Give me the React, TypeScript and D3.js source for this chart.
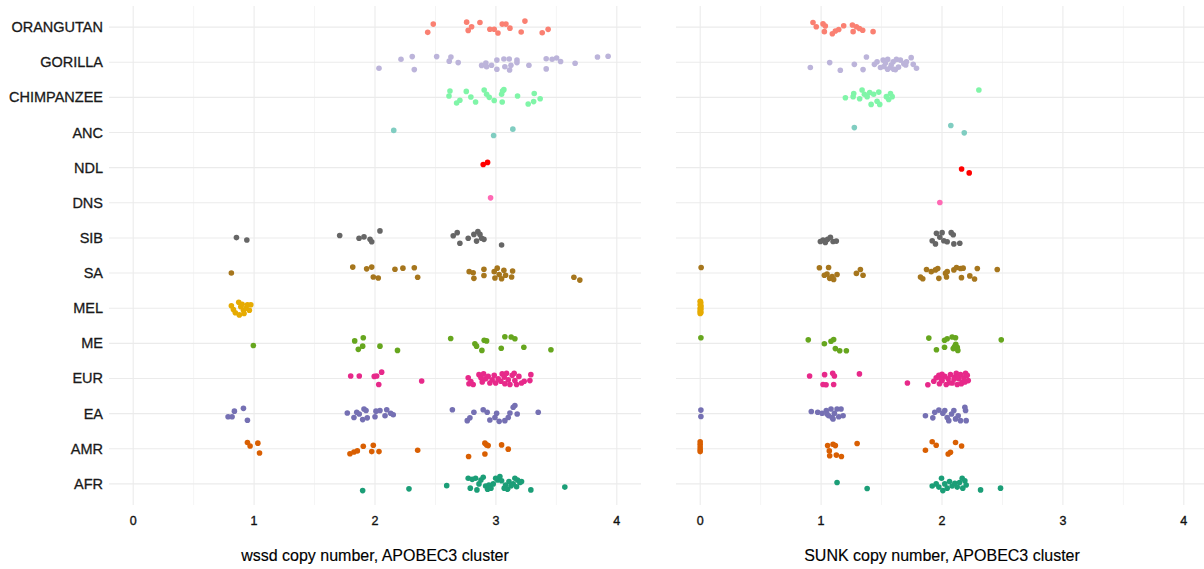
import React from "react";
import * as d3 from "d3";

// Categories (top to bottom)
const categories = ["ORANGUTAN","GORILLA","CHIMPANZEE","ANC","NDL","DNS","SIB","SA","MEL","ME","EUR","EA","AMR","AFR"];
const colors = ["#FA8072","#BCB4DA","#80F5A8","#80CDC1","#FF0000","#FF69B4","#666666","#A6761D","#E6AB02","#66A61E","#E7298A","#7570B3","#D95F02","#1B9E77"];
const xTicks = [0, 1, 2, 3, 4];
const xMinor = [0.5, 1.5, 2.5, 3.5];
const panelTitles = ["wssd copy number, APOBEC3 cluster", "SUNK copy number, APOBEC3 cluster"];

// [copy number, vertical jitter in rows]
const wssdORANGUTAN: [number, number][] = [[2.436,0.15],[2.482,-0.085],[2.758,-0.14],[2.771,0.094],[2.799,-0.01],[2.868,-0.13],[2.95,0.06],[2.986,0.06],[3.017,0.17],[3.052,-0.085],[3.083,-0.085],[3.116,0.03],[3.209,0.14],[3.24,-0.17],[3.383,0.16],[3.432,0.065]];
const wssdGORILLA: [number, number][] = [[2.033,0.17],[2.215,-0.085],[2.308,-0.16],[2.325,0.21],[2.51,-0.16],[2.614,-0.03],[2.628,-0.15],[2.688,0.01],[2.882,0.09],[2.917,0.02],[2.923,0.13],[2.964,0.085],[3.008,-0.06],[3.008,0.2],[3.066,-0.09],[3.074,0.13],[3.11,-0.09],[3.113,0.22],[3.124,0.085],[3.174,-0.06],[3.174,0.01],[3.273,0.085],[3.416,-0.1],[3.416,0.19],[3.465,-0.085],[3.502,-0.12],[3.535,-0.02],[3.655,0.03],[3.84,-0.15],[3.928,-0.17]];
const wssdCHIMPANZEE: [number, number][] = [[2.612,-0.04],[2.62,-0.18],[2.675,0.16],[2.702,0.08],[2.755,-0.17],[2.793,-0.01],[2.832,0.13],[2.903,-0.21],[2.923,-0.09],[2.945,0],[2.986,0.09],[3.047,-0.09],[3.055,-0.18],[3.066,-0.22],[3.052,0.13],[3.179,-0.04],[3.267,0.19],[3.312,0.12],[3.317,-0.11],[3.366,0.04]];
const wssdANC: [number, number][] = [[2.155,-0.06],[2.981,0.085],[3.14,-0.095]];
const wssdNDL: [number, number][] = [[2.895,-0.09],[2.931,-0.15]];
const wssdDNS: [number, number][] = [[2.956,-0.14]];
const wssdSIB: [number, number][] = [[0.854,-0.01],[0.94,0.06],[1.708,-0.07],[1.868,0.01],[1.909,-0.03],[1.959,0.04],[1.973,0.11],[2.041,-0.2],[2.647,-0.06],[2.68,-0.15],[2.702,0.15],[2.771,0.01],[2.818,-0.1],[2.84,0.09],[2.851,-0.18],[2.868,-0.1],[2.882,0.01],[2.901,0.04],[3.047,0.2]];
const wssdSA: [number, number][] = [[0.812,0],[1.816,-0.17],[1.931,-0.12],[1.973,-0.17],[1.986,0.11],[2.027,0.14],[2.165,-0.11],[2.231,-0.14],[2.325,-0.15],[2.353,0.12],[2.779,-0.04],[2.812,-0.01],[2.818,0.15],[2.901,-0.11],[2.901,0.07],[2.986,-0.04],[2.992,0.14],[3.011,-0.14],[3.027,0.04],[3.047,0.16],[3.066,-0.08],[3.08,0.06],[3.13,0.11],[3.138,-0.06],[3.645,0.12],[3.694,0.2]];
const wssdMEL: [number, number][] = [[0.812,-0.07],[0.829,0.04],[0.845,0.13],[0.873,-0.17],[0.878,0.19],[0.89,-0.04],[0.901,-0.11],[0.912,0.06],[0.917,0.15],[0.934,0],[0.945,-0.1],[0.973,-0.1],[0.961,0.06]];
const wssdME: [number, number][] = [[0.994,0.06],[1.832,-0.07],[1.862,0.17],[1.898,0.08],[1.903,-0.16],[2.041,0.08],[2.186,0.2],[2.626,-0.14],[2.826,0.01],[2.84,0.08],[2.884,0.2],[2.903,-0.09],[2.923,-0.07],[3.044,0.14],[3.074,-0.19],[3.126,-0.18],[3.157,-0.13],[3.231,0.11],[3.455,0.18]];
const wssdEUR: [number, number][] = [[1.799,-0.07],[1.87,-0.07],[1.994,-0.06],[2.014,-0.07],[2.055,-0.18],[2.031,0.17],[2.386,0.07],[2.771,-0.02],[2.777,0.15],[2.793,0.09],[2.812,0.17],[2.86,-0.11],[2.876,-0.02],[2.887,0.1],[2.898,-0.13],[2.915,0.01],[2.936,-0.06],[2.95,0.13],[2.969,0.04],[2.986,-0.09],[2.998,0.13],[3.019,0.01],[3.041,0.08],[3.052,-0.13],[3.069,-0.04],[3.074,0.15],[3.088,-0.15],[3.102,0.04],[3.116,0.17],[3.135,-0.09],[3.151,-0.15],[3.157,0.06],[3.171,0.17],[3.19,-0.06],[3.212,0.13],[3.234,0.08],[3.289,-0.11],[3.281,0.06]];
const wssdEA: [number, number][] = [[0.785,0.09],[0.818,0.09],[0.837,-0.07],[0.912,-0.15],[0.945,0.19],[1.771,-0.02],[1.826,0.11],[1.849,-0.04],[1.87,0.01],[1.898,0.17],[1.909,-0.13],[1.926,-0.09],[1.936,0.12],[2,0.09],[2.008,-0.07],[2.041,-0.09],[2.083,0.06],[2.097,-0.11],[2.13,-0.01],[2.151,0.03],[2.64,-0.11],[2.763,0.2],[2.785,0.12],[2.818,-0.04],[2.895,-0.11],[2.928,-0.04],[2.95,0.18],[2.992,0.11],[3.006,-0.01],[3.027,0.22],[3.074,0.2],[3.102,0.11],[3.116,-0.02],[3.143,-0.18],[3.157,-0.23],[3.176,0.01],[3.35,-0.04]];
const wssdAMR: [number, number][] = [[0.945,-0.18],[0.967,-0.08],[1.031,-0.16],[1.045,0.12],[1.793,0.14],[1.826,0.09],[1.854,0.06],[1.903,-0.07],[1.973,0.08],[1.986,-0.1],[2.033,0.08],[2.353,0.04],[2.774,0.22],[2.909,-0.16],[2.923,-0.11],[2.936,-0.09],[2.909,0.15],[3.047,-0.11],[3.102,0.01]];
const wssdAFR: [number, number][] = [[1.898,0.19],[2.281,0.14],[2.593,0.05],[2.771,-0.16],[2.788,0.12],[2.804,-0.13],[2.832,-0.16],[2.843,0.17],[2.86,0],[2.876,-0.11],[2.895,-0.19],[2.915,0.06],[2.931,0.15],[2.942,0.03],[2.959,0.12],[2.978,0],[2.998,-0.16],[3.014,-0.11],[3.033,-0.21],[3.047,-0.09],[3.069,0.12],[3.08,0.03],[3.097,0.15],[3.108,-0.07],[3.124,0.06],[3.143,0],[3.157,-0.16],[3.171,0.08],[3.179,-0.11],[3.198,-0.04],[3.212,-0.07],[3.289,0.17],[3.57,0.09]];

const sunkORANGUTAN: [number, number][] = [[0.933,-0.13],[0.96,-0.01],[1.016,-0.09],[1.027,0.13],[1.035,-0.03],[1.093,0.19],[1.118,0.11],[1.146,0.07],[1.187,-0.04],[1.259,-0.06],[1.265,0.13],[1.292,-0.01],[1.317,0.04],[1.344,0.09],[1.43,0.13]];
const sunkGORILLA: [number, number][] = [[0.911,0.15],[1.071,0.01],[1.159,0.23],[1.275,0.06],[1.347,0.21],[1.375,-0.15],[1.441,0.06],[1.463,-0.01],[1.491,0.15],[1.513,-0.06],[1.532,0.02],[1.551,-0.08],[1.574,0.15],[1.596,-0.01],[1.615,0.21],[1.623,-0.08],[1.656,-0.06],[1.684,0.04],[1.706,-0.01],[1.745,-0.13],[1.762,0.06],[1.789,0.17],[1.52,0.12],[1.58,0.08],[1.64,0.14],[1.7,0.08],[1.55,0.2],[1.6,0.2]];
const sunkCHIMPANZEE: [number, number][] = [[1.201,0.01],[1.265,-0.02],[1.27,-0.11],[1.319,0.04],[1.339,-0.21],[1.358,-0.09],[1.381,-0.02],[1.402,-0.14],[1.414,0.2],[1.435,-0.09],[1.463,0.11],[1.477,-0.15],[1.485,0.2],[1.54,-0.02],[1.559,0.06],[1.574,-0.11],[1.588,-0.02],[2.305,-0.21]];
const sunkANC: [number, number][] = [[1.275,-0.14],[2.073,-0.2],[2.184,0.01]];
const sunkNDL: [number, number][] = [[2.162,0.04],[2.225,0.15]];
const sunkDNS: [number, number][] = [[1.982,-0.01]];
const sunkSIB: [number, number][] = [[0.994,0.1],[1.016,0.06],[1.035,0.13],[1.054,0.04],[1.077,-0.02],[1.099,0.1],[1.126,0.09],[1.919,0.08],[1.946,0.17],[1.954,-0.13],[1.982,-0.02],[2.001,-0.15],[2.015,0.08],[2.043,0.11],[2.076,-0.15],[2.093,-0.09],[2.098,0.17],[2.147,0.15]];
const sunkSA: [number, number][] = [[0.008,-0.16],[0.986,-0.15],[1.027,0.06],[1.049,0.03],[1.062,-0.16],[1.071,0.15],[1.091,0.1],[1.104,0.18],[1.132,0.04],[1.292,0.01],[1.325,-0.1],[1.347,0.06],[1.822,0.11],[1.841,0.16],[1.872,-0.1],[1.911,-0.04],[1.946,-0.09],[1.965,-0.13],[1.974,0.15],[2.029,0.01],[2.037,0.11],[2.043,-0.04],[2.098,-0.09],[2.12,-0.16],[2.153,-0.13],[2.175,-0.14],[2.161,0.13],[2.23,0.08],[2.269,0.17],[2.292,-0.13],[2.457,-0.1]];
const sunkMEL: [number, number][] = [[0,-0.2],[0.004,-0.15],[0,-0.1],[0.006,-0.05],[0,0],[0.004,0.04],[0,0.08],[0.006,0.12],[0,0.15],[0.003,-0.18],[0.005,0.02],[0.002,0.1],[0.004,-0.08]];
const sunkME: [number, number][] = [[0.006,-0.16],[0.894,-0.1],[1.027,0.01],[1.082,-0.06],[1.104,-0.11],[1.118,0.15],[1.154,0.21],[1.209,0.21],[1.891,-0.15],[1.954,0.18],[2.021,0.11],[2.021,-0.09],[2.043,-0.13],[2.084,-0.18],[2.093,0.15],[2.112,-0.16],[2.114,0.03],[2.126,0.11],[2.131,0.2],[2.104,0.09],[2.49,-0.1]];
const sunkEUR: [number, number][] = [[0.905,-0.07],[1.029,-0.11],[1.041,0.18],[1.096,-0.15],[1.11,-0.07],[1.104,0.17],[1.016,0.17],[1.317,-0.13],[1.714,0.13],[1.883,0.18],[1.932,0.08],[1.952,-0.02],[1.974,-0.09],[1.979,0.15],[2.001,0.06],[2.023,-0.06],[2.035,0.17],[2.051,0.01],[2.07,-0.11],[2.084,0.13],[2.106,-0.04],[2.118,-0.15],[2.126,0.17],[2.139,0.01],[2.153,-0.11],[2.167,0.11],[2.181,-0.02],[2.195,-0.15],[2.209,-0.09],[2.217,0.06],[1.99,0],[2.06,0.12],[2.12,-0.05],[2.16,0.15],[2.0,-0.12],[2.1,0.02],[2.19,0.1]];
const sunkEA: [number, number][] = [[0.006,-0.1],[0.006,0.08],[0.919,-0.06],[0.972,-0.04],[1.008,-0.01],[1.043,-0.09],[1.063,0.06],[1.082,-0.13],[1.099,0.15],[1.11,-0.01],[1.132,-0.13],[1.146,0.09],[1.165,-0.13],[1.182,0.06],[1.049,0.01],[1.091,0.11],[1.863,0.06],[1.924,0.12],[1.94,-0.04],[1.974,-0.1],[2.007,-0.01],[2.023,-0.09],[2.043,0.11],[2.056,0.2],[2.079,0.01],[2.098,-0.09],[2.112,0.15],[2.134,0.06],[2.153,0.2],[2.189,-0.18],[2.195,-0.09],[2.2,0.2]];
const sunkAMR: [number, number][] = [[0,-0.2],[0,-0.13],[0,-0.05],[0,0.02],[0,0.08],[1.054,-0.09],[1.068,0.06],[1.099,-0.13],[1.118,-0.09],[1.071,0.2],[1.126,0.18],[1.168,0.22],[1.298,-0.15],[1.863,0.04],[1.919,-0.2],[1.952,-0.1],[2.051,0.15],[2.07,0.1],[2.112,-0.18],[2.162,-0.08]];
const sunkAFR: [number, number][] = [[1.132,-0.04],[1.381,0.13],[1.919,0.06],[1.952,0],[1.974,0.09],[1.996,-0.16],[2.007,0.19],[2.023,0],[2.043,0.12],[2.062,-0.07],[2.084,0.06],[2.106,-0.02],[2.126,0.09],[2.145,-0.04],[2.167,-0.16],[2.172,0.12],[2.189,-0.09],[2.2,0.03],[2.319,0.17],[2.484,0.12]];

const wssdSeries = [wssdORANGUTAN, wssdGORILLA, wssdCHIMPANZEE, wssdANC, wssdNDL, wssdDNS, wssdSIB, wssdSA, wssdMEL, wssdME, wssdEUR, wssdEA, wssdAMR, wssdAFR];
const sunkSeries = [sunkORANGUTAN, sunkGORILLA, sunkCHIMPANZEE, sunkANC, sunkNDL, sunkDNS, sunkSIB, sunkSA, sunkMEL, sunkME, sunkEUR, sunkEA, sunkAMR, sunkAFR];

const W = 1204, H = 569;
const panelTop = 6, panelBottom = 505;
const panels = [{ x0: 109, x1: 641, data: wssdSeries }, { x0: 676, x1: 1208, data: sunkSeries }];
const FONT = "'Liberation Sans', Arial, Helvetica, sans-serif";

export default function App() {
  const y = d3.scalePoint<string>().domain(categories).range([panelTop, panelBottom]).padding(0.6);
  const step = y.step();
  return (
    <svg width={W} height={H} style={{ position: "absolute", left: 0, top: 0, background: "#fff" }} fontFamily={FONT}>
      {panels.map((p, pi) => {
        const x = d3.scaleLinear().domain([-0.2, 4.2]).range([p.x0, p.x1]);
        return (
          <g key={pi}>
            {xMinor.map(t => (
              <line key={"m" + t} x1={x(t)} x2={x(t)} y1={panelTop} y2={panelBottom} stroke="#ebebeb" strokeWidth={0.55} />
            ))}
            {xTicks.map(t => (
              <line key={"M" + t} x1={x(t)} x2={x(t)} y1={panelTop} y2={panelBottom} stroke="#ebebeb" strokeWidth={1.1} />
            ))}
            {categories.map(c => (
              <line key={c} x1={p.x0} x2={p.x1} y1={y(c)} y2={y(c)} stroke="#ebebeb" strokeWidth={1.1} />
            ))}
            {xTicks.map(t => (
              <text key={"t" + t} x={x(t)} y={525} textAnchor="middle" fontSize={12.5} fill="#111" stroke="#111" strokeWidth={0.35}>{t}</text>
            ))}
            <text x={x(2)} y={561} textAnchor="middle" fontSize={16} fill="#000" stroke="#000" strokeWidth={0.15}>{panelTitles[pi]}</text>
            {p.data.map((pts, ci) => (
              <g key={ci} fill={colors[ci]}>
                {pts.map((d, i) => (
                  <circle key={i} cx={x(d[0])} cy={(y(categories[ci]) as number) + d[1] * step} r={2.8} />
                ))}
              </g>
            ))}
          </g>
        );
      })}
      {categories.map(c => (
        <text key={c} x={103} y={(y(c) as number) + 5} textAnchor="end" fontSize={14.5} fill="#1a1a1a" stroke="#1a1a1a" strokeWidth={0.3}>{c}</text>
      ))}
    </svg>
  );
}
